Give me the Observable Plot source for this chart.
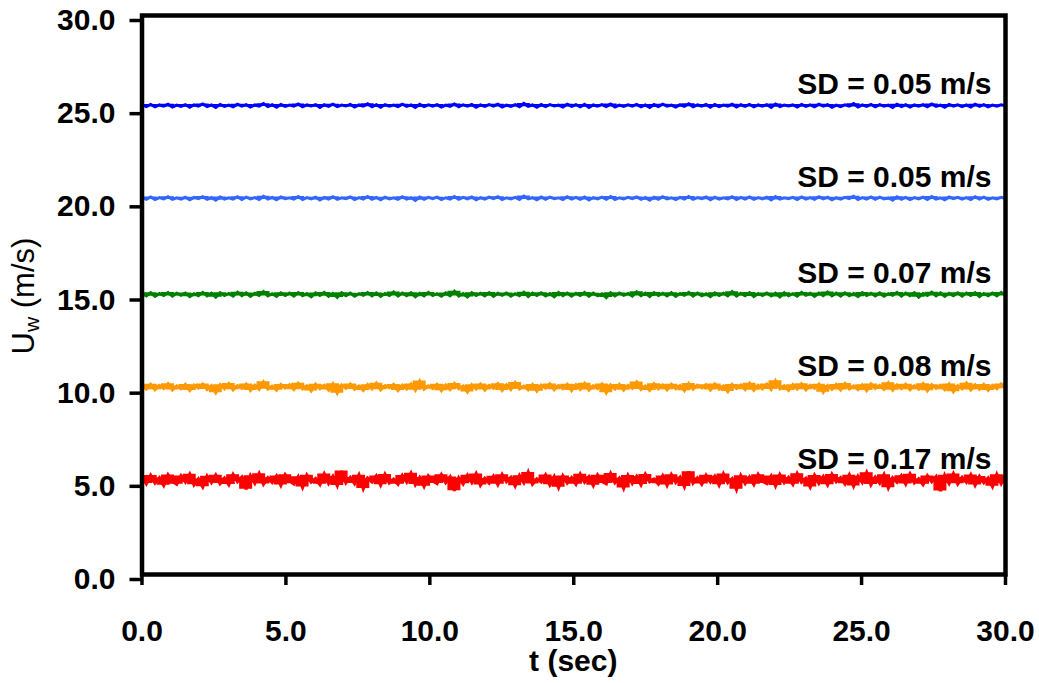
<!DOCTYPE html>
<html>
<head>
<meta charset="utf-8">
<script src="https://cdn.jsdelivr.net/npm/d3@7"></script>
<script src="https://cdn.jsdelivr.net/npm/@observablehq/plot@0.6"></script>
<style>
  html, body { margin: 0; padding: 0; background: #fff; }
  #chart { width: 1039px; height: 683px; }
</style>
</head>
<body>
<div id="chart"></div>
<script>
// ---- data ----
const xTicks = [0, 5, 10, 15, 20, 25, 30];
const yTicks = [0, 5, 10, 15, 20, 25, 30];
const seriesNames = ["25 m/s", "20 m/s", "15 m/s", "10 m/s", "5 m/s"];
const seriesColors = ["#0000FF", "#3366FF", "#008000", "#FF9900", "#FF0000"];
const sdLabels = ["SD = 0.05 m/s", "SD = 0.05 m/s", "SD = 0.07 m/s", "SD = 0.08 m/s", "SD = 0.17 m/s"];

const uBlue = [
25.21,25.11,25.23,25.10,25.20,25.13,25.24,25.09,25.19,25.12,25.22,25.08,25.21,25.14,25.25,25.11,25.20,25.07,25.23,25.12,
25.19,25.10,25.24,25.13,25.22,25.09,25.20,25.14,25.27,25.11,25.21,25.08,25.23,25.12,25.19,25.13,25.25,25.10,25.20,25.14,
25.22,25.07,25.21,25.12,25.24,25.11,25.19,25.14,25.23,25.09,25.20,25.13,25.26,25.10,25.21,25.08,25.22,25.13,25.19,25.11,
25.24,25.12,25.20,25.06,25.23,25.11,25.21,25.14,25.22,25.09,25.19,25.12,25.25,25.10,25.21,25.13,25.23,25.08,25.20,25.12,
25.22,25.14,25.24,25.09,25.19,25.12,25.21,25.10,25.28,25.13,25.20,25.08,25.23,25.11,25.22,25.14,25.19,25.09,25.24,25.12,
25.21,25.10,25.23,25.07,25.20,25.13,25.22,25.11,25.25,25.09,25.19,25.12,25.21,25.14,25.23,25.10,25.20,25.06,25.22,25.11,
25.24,25.13,25.19,25.09,25.21,25.12,25.26,25.10,25.20,25.14,25.23,25.08,25.22,25.11,25.19,25.13,25.24,25.09,25.21,25.12,
25.23,25.10,25.20,25.13,25.22,25.07,25.25,25.11,25.19,25.14,25.21,25.09,25.23,25.12,25.20,25.10,25.24,25.13,25.22,25.08,
25.19,25.11,25.21,25.14,25.27,25.09,25.20,25.12,25.23,25.10,25.22,25.13,25.19,25.06,25.24,25.11,25.21,25.09,25.20,25.13,
25.22,25.10,25.25,25.12,25.19,25.08,25.23,25.14,25.21,25.11,25.20,25.09,25.24,25.12,25.22,25.10,25.19,25.13,25.21,25.15];

const uLightBlue = [
20.24,20.14,20.26,20.12,20.23,20.16,20.27,20.13,20.22,20.15,20.25,20.11,20.24,20.17,20.28,20.13,20.23,20.09,20.26,20.15,
20.22,20.14,20.27,20.12,20.25,20.16,20.23,20.13,20.30,20.15,20.24,20.11,20.26,20.17,20.22,20.14,20.28,20.12,20.23,20.16,
20.25,20.10,20.24,20.15,20.27,20.13,20.22,20.17,20.26,20.12,20.23,20.15,20.29,20.14,20.24,20.11,20.25,20.16,20.22,20.13,
20.27,20.15,20.23,20.08,20.26,20.14,20.24,20.17,20.25,20.12,20.22,20.15,20.28,20.13,20.24,20.16,20.26,20.11,20.23,20.14,
20.25,20.17,20.27,20.12,20.22,20.15,20.24,20.13,20.31,20.16,20.23,20.11,20.26,20.14,20.25,20.17,20.22,20.12,20.27,20.15,
20.24,20.13,20.26,20.10,20.23,20.16,20.25,20.14,20.28,20.12,20.22,20.15,20.24,20.17,20.26,20.13,20.23,20.09,20.25,20.14,
20.27,20.16,20.22,20.12,20.24,20.15,20.29,20.13,20.23,20.17,20.26,20.11,20.25,20.14,20.22,20.16,20.27,20.12,20.24,20.15,
20.26,20.13,20.23,20.16,20.25,20.10,20.28,20.14,20.22,20.17,20.24,20.12,20.26,20.15,20.23,20.13,20.27,20.16,20.25,20.11,
20.22,20.14,20.24,20.17,20.30,20.12,20.23,20.15,20.26,20.13,20.25,20.16,20.22,20.09,20.27,20.14,20.24,20.12,20.23,20.16,
20.25,20.13,20.28,20.15,20.22,20.11,20.26,20.17,20.24,20.14,20.23,20.12,20.27,20.15,20.25,20.13,20.22,20.16,20.24,20.18];

const uGreen = [
15.10,14.95,15.12,14.93,15.08,14.97,15.13,14.94,15.09,14.98,15.11,14.91,15.07,14.96,15.14,14.95,15.10,14.88,15.12,14.97,
15.08,14.94,15.15,14.96,15.11,14.93,15.09,14.98,15.19,14.95,15.07,14.92,15.12,14.97,15.10,14.94,15.13,14.96,15.08,14.90,
15.11,14.97,15.14,14.93,15.09,14.87,15.12,14.96,15.10,14.94,15.07,14.98,15.13,14.95,15.11,14.92,15.08,14.97,15.16,14.94,
15.10,14.96,15.12,14.91,15.09,14.95,15.14,14.97,15.07,14.93,15.11,14.96,15.20,14.94,15.08,14.89,15.12,14.97,15.10,14.95,
15.13,14.93,15.09,14.98,15.11,14.94,15.07,14.96,15.15,14.92,15.10,14.97,15.12,14.95,15.08,14.90,15.13,14.96,15.11,14.94,
15.09,14.97,15.14,14.93,15.10,14.96,15.07,14.86,15.12,14.95,15.11,14.98,15.08,14.94,15.17,14.96,15.10,14.92,15.13,14.97,
15.09,14.95,15.12,14.93,15.08,14.98,15.14,14.94,15.11,14.96,15.07,14.91,15.12,14.97,15.10,14.95,15.18,14.94,15.09,14.96,
15.13,14.92,15.08,14.97,15.11,14.95,15.10,14.89,15.12,14.96,15.07,14.94,15.14,14.98,15.09,14.93,15.11,14.97,15.16,14.95,
15.10,14.94,15.12,14.96,15.08,14.91,15.13,14.97,15.09,14.95,15.11,14.93,15.07,14.98,15.14,14.94,15.10,14.96,15.12,14.88,
15.08,14.97,15.15,14.95,15.11,14.93,15.09,14.96,15.12,14.94,15.10,14.97,15.13,14.92,15.08,14.96,15.11,14.95,15.14,14.98];

const uOrange = [
10.18,9.95,10.21,9.92,10.15,9.98,10.24,9.90,10.12,9.96,10.20,9.87,10.17,10.01,10.23,9.93,10.14,9.76,10.19,9.97,
10.25,9.91,10.13,9.99,10.22,9.88,10.16,9.94,10.34,9.95,10.11,9.89,10.20,10.00,10.18,9.92,10.26,9.96,10.13,9.85,
10.21,9.97,10.15,9.90,10.24,9.73,10.17,9.99,10.22,9.93,10.12,9.88,10.19,9.96,10.27,9.91,10.14,10.02,10.20,9.87,
10.16,9.95,10.23,9.89,10.38,9.94,10.13,9.98,10.21,9.86,10.17,9.92,10.25,9.97,10.12,9.79,10.19,9.95,10.22,9.90,
10.15,9.99,10.24,9.88,10.18,9.93,10.30,9.96,10.11,9.91,10.20,9.84,10.16,10.00,10.23,9.92,10.14,9.97,10.21,9.87,
10.19,9.94,10.26,9.90,10.13,9.98,10.22,9.75,10.17,9.95,10.20,9.89,10.15,9.99,10.33,9.93,10.12,9.88,10.24,9.96,
10.18,9.91,10.21,9.97,10.14,9.86,10.25,9.94,10.16,10.01,10.19,9.90,10.23,9.95,10.12,9.82,10.20,9.98,10.17,9.92,
10.26,9.89,10.15,9.96,10.22,9.93,10.40,9.97,10.13,9.88,10.19,9.95,10.24,9.91,10.16,9.99,10.21,9.78,10.14,9.94,
10.20,9.90,10.25,9.96,10.12,9.92,10.18,9.87,10.23,9.98,10.15,9.93,10.29,9.89,10.17,9.97,10.21,9.91,10.13,9.95,
10.24,9.86,10.19,9.99,10.16,9.92,10.22,9.81,10.14,9.96,10.27,9.90,10.18,9.94,10.20,9.88,10.15,9.97,10.23,10.02];

const uRed = [
5.25,4.88,5.31,4.92,5.18,4.79,5.34,5.01,4.85,5.29,4.97,5.38,4.82,5.12,4.71,5.27,4.94,5.33,4.89,5.16,
4.83,5.36,4.99,5.22,4.58,5.30,4.91,5.41,4.86,5.19,4.95,5.28,4.80,5.35,5.03,4.87,5.24,4.69,5.32,4.96,
5.14,4.84,5.39,4.90,5.26,4.78,5.55,4.93,5.21,4.88,5.33,4.62,5.17,4.98,5.29,4.81,5.37,4.92,5.11,4.85,
5.31,4.97,5.43,4.83,5.20,4.74,5.28,5.02,4.89,5.35,4.94,5.23,4.50,5.18,4.87,5.32,4.95,5.40,4.80,5.15,
4.91,5.27,4.84,5.36,4.99,5.21,4.76,5.30,4.93,5.48,4.86,5.13,4.97,5.34,4.82,5.25,4.68,5.29,4.92,5.19,
4.85,5.38,4.96,5.24,4.79,5.33,5.00,4.88,5.42,4.93,5.17,4.64,5.31,4.90,5.26,4.83,5.37,4.98,5.12,4.87,
5.29,4.80,5.35,4.95,5.22,4.72,5.52,4.91,5.18,4.86,5.32,4.97,5.27,4.81,5.39,4.94,5.14,4.57,5.30,4.89,
5.23,4.84,5.36,5.01,4.88,5.28,4.77,5.34,4.93,5.20,4.85,5.41,4.96,5.16,4.70,5.31,4.90,5.25,4.82,5.37,
4.98,5.19,4.87,5.33,4.75,5.27,4.94,5.46,4.83,5.22,4.91,5.35,4.66,5.18,4.96,5.30,4.86,5.38,4.92,5.13,
4.84,5.29,4.99,5.24,4.48,5.32,4.90,5.40,4.87,5.21,4.95,5.34,4.80,5.26,4.93,5.17,4.73,5.36,4.89,5.28];

// sample times: 200 samples spanning 0–30 s
const tSec = d3.range(200).map(i => i * 30 / 199);

// ---- build tables ----
const allSeries = [uBlue, uLightBlue, uGreen, uOrange, uRed];
const rows = allSeries.flatMap((vals, k) => vals.map((u, i) => ({t: tSec[i], u, name: seriesNames[k]})));
const labelRows = allSeries.map((vals, k) => ({t: 30, u: d3.mean(vals), label: sdLabels[k], name: seriesNames[k]}));
const traceWidths = [3, 3, 3, 3, 3.4];

const FONT = "'Liberation Sans', Arial, Helvetica, sans-serif";

// each series: dense-signal envelope (rolling min/max) + the trace itself
const seriesMarks = allSeries.flatMap((vals, k) => {
  const data = rows.filter(r => r.name === seriesNames[k]);
  const color = seriesColors[k];
  return [
    Plot.area(data, Plot.map(
      {y1: Plot.window({k: 3, reduce: "min"}), y2: Plot.window({k: 3, reduce: "max"})},
      {x1: "t", y1: "u", y2: "u", fill: color, curve: "step"}
    )),
    Plot.line(data, {x: "t", y: "u", stroke: color, strokeWidth: traceWidths[k], strokeLinejoin: "miter", strokeMiterlimit: 3})
  ];
});

const svg = Plot.plot({
  width: 1039,
  height: 683,
  marginLeft: 141.5,
  marginRight: 34,
  marginTop: 15,
  marginBottom: 109,
  style: {fontFamily: FONT, background: "#fff", color: "#000", overflow: "visible"},
  x: {domain: [0, 30]},
  y: {domain: [0, 30]},
  marks: [
    ...seriesMarks,
    Plot.text(labelRows, {
      x: "t", y: "u", text: "label", textAnchor: "end", dx: -14, dy: -21,
      fontSize: 30, fontWeight: "bold", fill: "#000"
    }),
    Plot.axisY({
      ticks: yTicks, tickFormat: d => d.toFixed(1), tickSize: 12, tickPadding: 14.5,
      strokeWidth: 3.5, fontSize: 30, fontWeight: "bold", label: null, dy: 5
    }),
    Plot.axisX({
      ticks: xTicks, tickFormat: d => d.toFixed(1), tickSize: 11, tickPadding: 34,
      strokeWidth: 3.5, fontSize: 30, fontWeight: "bold", label: null
    }),
    Plot.frame({stroke: "#000", strokeWidth: 4.5})
  ]
});

// axis titles
const s = d3.select(svg);
s.append("text")
  .attr("x", (141.5 + 1005) / 2).attr("y", 671)
  .attr("text-anchor", "middle")
  .attr("font-family", FONT).attr("font-size", 30).attr("font-weight", "bold").attr("fill", "#000")
  .text("t (sec)");

const yl = s.append("text")
  .attr("transform", "translate(34,296) rotate(-90)")
  .attr("text-anchor", "middle")
  .attr("font-family", FONT).attr("font-size", 31).attr("font-weight", "normal").attr("fill", "#000");
yl.append("tspan").text("U");
yl.append("tspan").attr("font-size", 21).attr("dy", 5).text("w");
yl.append("tspan").attr("dy", -5).text(" (m/s)");

document.getElementById("chart").appendChild(svg);
</script>
</body>
</html>
